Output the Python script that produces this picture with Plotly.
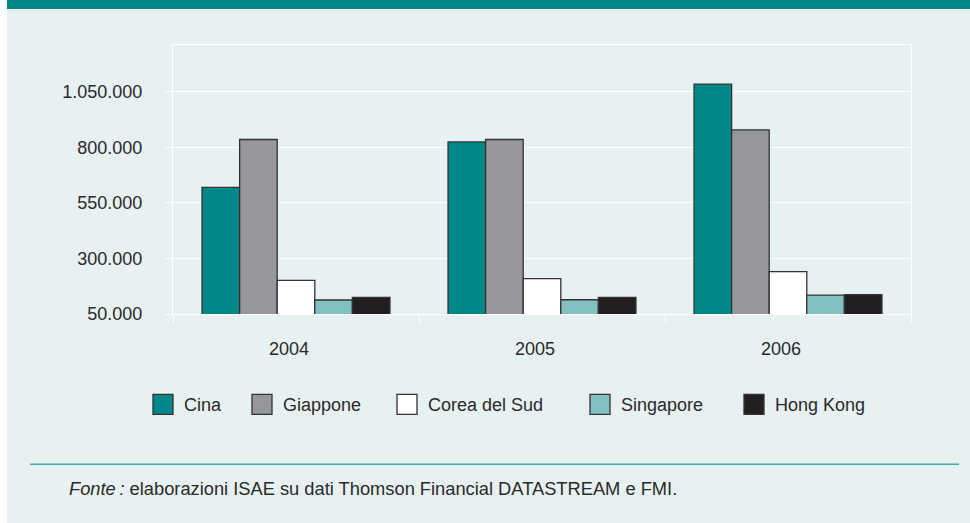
import plotly.graph_objects as go

# ---------------- data ----------------
years = ["2004", "2005", "2006"]
countries = ["Cina", "Giappone", "Corea del Sud", "Singapore", "Hong Kong"]
cina = [620000, 824000, 1084000]
giappone = [835000, 835000, 878000]
corea_del_sud = [201000, 209000, 241000]
singapore = [113000, 114000, 135000]
hong_kong = [125000, 125000, 137000]
ytick_vals = [50000, 300000, 550000, 800000, 1050000]
ytick_text = ["50.000", "300.000", "550.000", "800.000", "1.050.000"]
source_label = "Fonte\u2009:"
source_text = "elaborazioni ISAE su dati Thomson Financial DATASTREAM e FMI."

series = [cina, giappone, corea_del_sud, singapore, hong_kong]

# ---------------- style / layout ----------------
colors = ["#00878A", "#96979B", "#FFFFFF", "#82C0C1", "#231F20"]
BG = "#E8F1F2"
TEAL = "#00878A"
TEXT = "#2a2a2a"
FONT = "Liberation Sans, Arial, Helvetica, sans-serif"

W, H = 970, 523
L, R, T, B = 173, 59, 45, 209
PW, PH = W - L - R, H - T - B


def px(x):
    return (x - L) / PW


def py(y):
    return (H - B - y) / PH


fig = go.Figure()
for name, vals, col in zip(countries, series, colors):
    fig.add_trace(go.Bar(
        x=years, y=vals, name=name,
        marker=dict(color=col, line=dict(color="#333333", width=1.3)),
        showlegend=False, hoverinfo="x+y+name",
    ))

shapes = []
# white strip at left edge
shapes.append(dict(type="rect", xref="paper", yref="paper",
                   x0=px(0), x1=px(7), y0=py(H), y1=py(0),
                   fillcolor="white", line=dict(width=0), layer="below"))
# header band
shapes.append(dict(type="rect", xref="paper", yref="paper",
                   x0=px(7), x1=px(W), y0=py(9), y1=py(0),
                   fillcolor=TEAL, line=dict(width=0)))
# footer rule
shapes.append(dict(type="line", xref="paper", yref="paper",
                   x0=px(30), x1=px(959), y0=py(464.3), y1=py(464.3),
                   line=dict(color="#4AA8AA", width=1.5)))

annotations = []
# manual legend
legend_left = [153, 252, 397, 590, 744]
for name, col, x0 in zip(countries, colors, legend_left):
    shapes.append(dict(type="rect", xref="paper", yref="paper",
                       x0=px(x0), x1=px(x0 + 20), y0=py(414.3), y1=py(394.3),
                       fillcolor=col, line=dict(color="#333333", width=1.3)))
    annotations.append(dict(text=name, xref="paper", yref="paper",
                            x=px(x0 + 29), y=py(404.5), xanchor="left", yanchor="middle",
                            showarrow=False, font=dict(size=18, color=TEXT, family=FONT)))

annotations.append(dict(text="<i>" + source_label + "</i> " + source_text,
                        xref="paper", yref="paper", x=px(67), y=py(488.5),
                        xanchor="left", yanchor="middle", showarrow=False,
                        font=dict(size=18.3, color=TEXT, family=FONT)))

fig.update_layout(
    width=W, height=H,
    margin=dict(l=L, r=R, t=T, b=B, pad=0),
    paper_bgcolor=BG, plot_bgcolor=BG,
    font=dict(family=FONT, size=18, color=TEXT),
    barmode="group", bargap=0.236, bargroupgap=0,
    shapes=shapes, annotations=annotations,
    showlegend=False,
    xaxis=dict(type="category", tickson="boundaries", ticks="outside",
               ticklen=8, tickwidth=1.3, tickcolor="white",
               showline=True, linecolor="white", linewidth=1.3, mirror=True,
               showgrid=False, zeroline=False,
               ticklabelstandoff=18, ticklabelshift=-7,
               tickfont=dict(size=18, color=TEXT)),
    yaxis=dict(range=[50000, 1260000], tickvals=ytick_vals, ticktext=ytick_text,
               ticks="outside", ticklen=7, tickwidth=1.3, tickcolor="white",
               showgrid=True, gridcolor="white", gridwidth=1.3,
               showline=True, linecolor="white", linewidth=1.3, mirror=True,
               zeroline=False, ticklabelstandoff=19,
               tickfont=dict(size=18, color=TEXT)),
)

fig.write_html("out.html", config={"displayModeBar": False},
               post_script="document.body.style.margin='0';document.body.style.padding='0';")
